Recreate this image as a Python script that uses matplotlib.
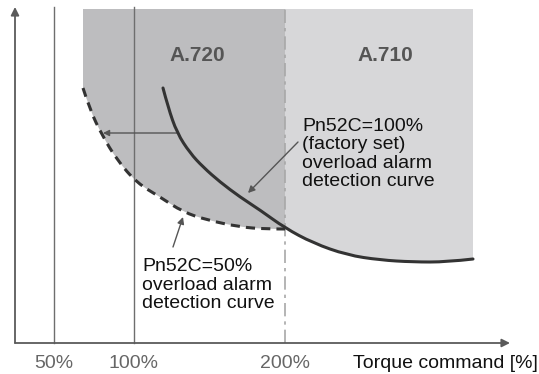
"""Overload alarm detection curves (A.720 / A.710) — schematic recreation."""
import matplotlib
matplotlib.use("Agg")
import matplotlib.pyplot as plt
from matplotlib.patches import PathPatch
from matplotlib.path import Path

plt.rcParams["font.family"] = ["Liberation Sans", "DejaVu Sans"]

# --------------------------------------------------------------------------- #
# Data (schematic units: x = torque position, y = detection time, origin at axes)
# --------------------------------------------------------------------------- #
tick_pos = [39, 119, 270]
tick_labels = ["50%", "100%", "200%"]
x_label = "Torque command [%]"

# Pn52C = 100 % (factory set) detection curve
solid_x = [148, 153, 162, 175, 188, 205, 225, 245, 270, 298, 332, 365, 398, 432, 458]
solid_y = [255, 236, 210, 190, 176, 161, 146, 133, 115, 100, 88, 83, 81, 81, 84]

# Pn52C = 50 % detection curve
dashed_x = [68, 75, 87, 102, 122, 145, 168, 192, 225, 250, 270]
dashed_y = [255, 233, 208, 183, 160, 146, 131, 123, 116, 114, 114]

region_top = 334
axis_top = 336
axis_right = 495

zone_labels = ["A.720", "A.710"]
zone_label_x = [182, 370]
zone_label_y = 288

label_100 = "Pn52C=100%\n(factory set)\noverload alarm\ndetection curve"
label_50 = "Pn52C=50%\noverload alarm\ndetection curve"

DARK = "#bdbdbf"
LIGHT = "#d7d7d9"
CURVE = "#333333"
AXIS = "#5a5a5a"


def smooth_path(xs, ys):
    """Quadratic B-spline path: the data points act as control points."""
    pts = list(zip(xs, ys))
    verts = [pts[0]]
    codes = [Path.MOVETO]
    for i in range(1, len(pts) - 1):
        mid = ((pts[i][0] + pts[i + 1][0]) / 2, (pts[i][1] + pts[i + 1][1]) / 2)
        end = pts[-1] if i == len(pts) - 2 else mid
        verts += [pts[i], end]
        codes += [Path.CURVE3, Path.CURVE3]
    return Path(verts, codes)


fig = plt.figure(figsize=(5.39, 3.74), dpi=100)
ax = fig.add_axes([0, 0, 1, 1])
ax.set_xlim(-15, 524)
ax.set_ylim(-31, 343)
ax.axis("off")

# shaded alarm zones (bounded below by the curves)
i200 = solid_x.index(tick_pos[2])
light = smooth_path(solid_x[i200:], solid_y[i200:])
lv = list(light.vertices) + [(solid_x[-1], region_top), (solid_x[i200], region_top),
                             (solid_x[i200], solid_y[i200])]
lc = list(light.codes) + [Path.LINETO, Path.LINETO, Path.CLOSEPOLY]
ax.add_patch(PathPatch(Path(lv, lc), facecolor=LIGHT, lw=0, zorder=1))

dark = smooth_path(dashed_x, dashed_y)
dv = [(dashed_x[0], region_top)] + list(dark.vertices) + \
     [(dashed_x[-1], region_top), (dashed_x[0], region_top)]
dc = [Path.MOVETO, Path.LINETO] + list(dark.codes[1:]) + [Path.LINETO, Path.CLOSEPOLY]
ax.add_patch(PathPatch(Path(dv, dc), facecolor=DARK, lw=0, zorder=1))

# reference verticals
for xp in tick_pos[:2]:
    ax.plot([xp, xp], [0, axis_top], color="#6e6e6e", lw=1.0, zorder=2)
ax.plot([tick_pos[2]] * 2, [0, region_top], color="#a8a8a8", lw=1.2,
        ls=(0, (8, 3, 2, 3)), zorder=2)

# axes with arrows
for tip in [(0, axis_top), (axis_right, 0)]:
    ax.annotate("", xy=tip, xytext=(0, 0),
                arrowprops=dict(arrowstyle="-|>", color=AXIS, lw=1.3,
                                mutation_scale=12, shrinkA=0, shrinkB=0))

# curves
ax.add_patch(PathPatch(smooth_path(solid_x, solid_y), facecolor="none",
                       edgecolor=CURVE, lw=2.2, capstyle="round", zorder=4))
ax.add_patch(PathPatch(smooth_path(dashed_x, dashed_y), facecolor="none",
                       edgecolor=CURVE, lw=2.2, ls=(0, (3, 2)), zorder=4))

# shift arrow between the two curves
ax.annotate("", xy=(88, 210), xytext=(162, 210),
            arrowprops=dict(arrowstyle="-|>", color="#555555", lw=1.0,
                            mutation_scale=9, shrinkA=0, shrinkB=0), zorder=3)

# leader arrows for the labels
ax.annotate("", xy=(233, 150), xytext=(283, 201),
            arrowprops=dict(arrowstyle="-|>", color="#555555", lw=1.0,
                            mutation_scale=10, shrinkA=0, shrinkB=0), zorder=5)
ax.annotate("", xy=(168, 126), xytext=(158, 96),
            arrowprops=dict(arrowstyle="-|>", color="#555555", lw=1.0,
                            mutation_scale=10, shrinkA=0, shrinkB=0), zorder=5)

# texts
for lbl, xp in zip(zone_labels, zone_label_x):
    ax.text(xp, zone_label_y, lbl, ha="center", va="center", fontsize=15,
            fontweight="bold", color="#555555")
ax.text(287, 189, label_100, ha="left", va="center", fontsize=14,
        color="#111111", linespacing=1.1)
ax.text(127, 58, label_50, ha="left", va="center", fontsize=14,
        color="#111111", linespacing=1.1)

for xp, lbl in zip(tick_pos, tick_labels):
    ax.text(xp, -20, lbl, ha="center", va="center", fontsize=14, color="#666666")
ax.text(338, -20, x_label, ha="left", va="center", fontsize=14, color="#111111")

fig.savefig("out.png", dpi=100)
